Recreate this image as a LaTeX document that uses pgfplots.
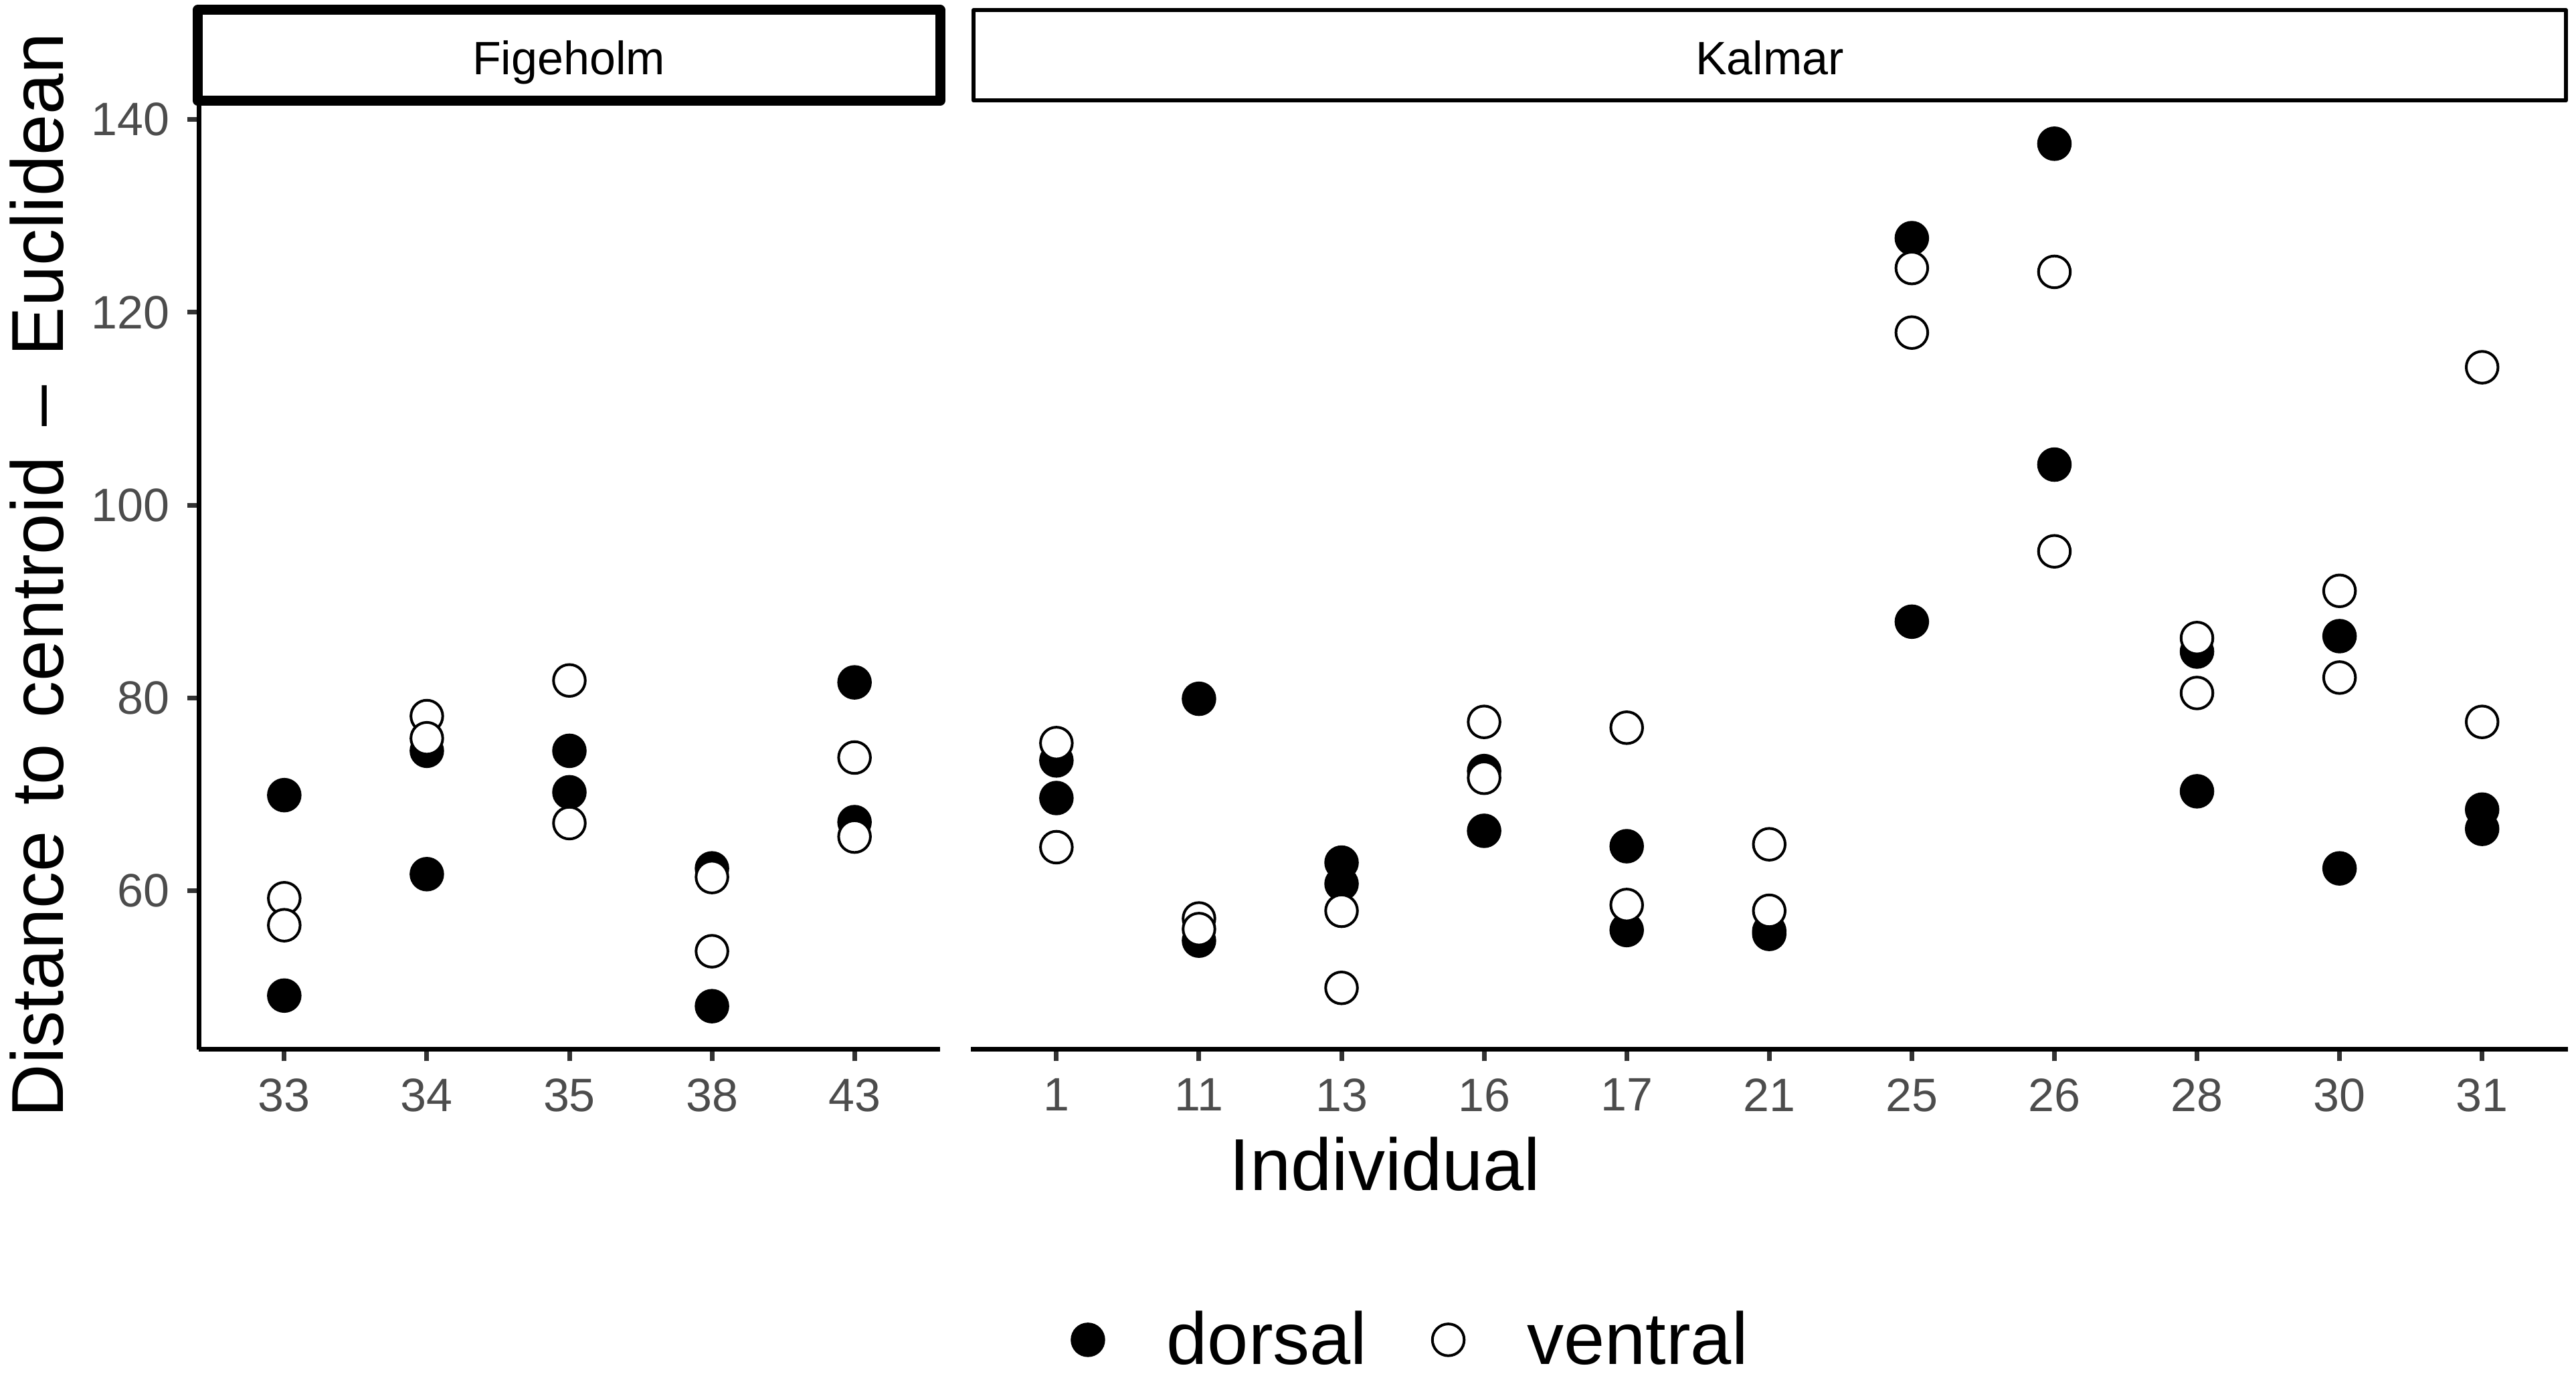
\documentclass[border=0pt]{standalone}
\usepackage{fontspec}
\setmainfont{Liberation Sans}
\usepackage{pgfplots}
\pgfplotsset{compat=1.18}

\pgfplotsset{
  panel/.style={
    scale only axis, anchor=south west, height=283.8pt,
    ymin=43.5, ymax=142, clip=false,
    axis x line*=bottom,
    axis line style={line width=1.4pt, black, -},
    tick align=outside, major tick length=3.5pt,
    tick style={line width=1.4pt, color=black!80},
    /pgf/number format/assume math mode=true,
    tick label style={font=\fontsize{14}{16}\selectfont, text=black!70},
    xticklabel style={anchor=north, inner sep=0pt, yshift=-5pt},
    yticklabel style={anchor=east, inner sep=0pt, xshift=-5pt},
  },
  dors/.style={only marks, mark=*, mark size=4.75pt,
    mark options={draw=black, fill=black, line width=0.8pt},
    legend image code/.code={\draw[line width=0.8pt, draw=black, fill=black] (0pt,0pt) circle (4.75pt);}},
  vent/.style={only marks, mark=*, mark size=4.75pt,
    mark options={draw=black, fill=white, line width=0.8pt},
    legend image code/.code={\draw[line width=0.8pt, draw=black, fill=white] (0pt,0pt) circle (4.75pt);}},
}

\begin{document}
\begin{tikzpicture}
% ---------------- Figeholm ----------------
\begin{axis}[panel,
  at={(59.4pt,97.6pt)}, width=221.6pt,
  xmin=0.4, xmax=5.6,
  axis y line*=left,
  xtick={1,2,3,4,5}, xticklabels={33,34,35,38,43},
  ytick={60,80,100,120,140},
  ylabel={Distance\hspace{1.6pt} to\hspace{1.6pt} centroid\hspace{2.8pt} --\hspace{2.8pt} Euclidean},
  every axis y label/.style={at={(axis description cs:-0.2184,0.5)}, rotate=90, anchor=center,
    font=\fontsize{22}{26}\selectfont, inner sep=0pt},
]
\addplot[dors] table[x=x, y=y] {
x y
1 69.9
1 49.1
2 74.5
2 61.7
3 74.5
3 70.2
4 62.3
4 48.0
5 81.6
5 67.1
};
\addplot[vent] table[x=x, y=y] {
x y
1 59.2
1 56.4
2 78.1
2 75.8
3 81.8
3 67.0
4 61.4
4 53.7
5 73.8
5 65.6
};
\end{axis}
% ---------------- Kalmar ----------------
\begin{axis}[panel,
  at={(290.2pt,97.6pt)}, width=477.3pt,
  xmin=0.4, xmax=11.6,
  axis y line=none,
  xtick={1,2,3,4,5,6,7,8,9,10,11},
  xticklabels={1,11,13,16,17,21,25,26,28,30,31},
  ytick=\empty,
  xlabel={Individual},
  every axis x label/.style={at={(axis description cs:0.2594,-0.1205)}, anchor=center,
    font=\fontsize{22}{26}\selectfont, inner sep=0pt},
  legend style={at={(0.2746,-0.3058)}, anchor=center, draw=none, fill=none,
    legend columns=-1, font=\fontsize{22}{26}\selectfont,
    nodes={inner sep=0pt},
    /tikz/every odd column/.append style={column sep=18.4pt},
    /tikz/every even column/.append style={column sep=19.1pt}},
]
\addplot[dors] table[x=x, y=y] {
x y
1 73.5
1 69.6
2 79.9
2 54.8
3 62.9
3 60.7
4 72.4
4 66.2
5 64.6
5 55.9
6 55.8
6 55.5
7 127.7
7 87.9
8 137.5
8 104.2
9 84.8
9 70.3
10 86.4
10 62.3
11 68.4
11 66.4
};
\addlegendentry{dorsal}
\addplot[vent] table[x=x, y=y] {
x y
1 75.3
1 64.5
2 57.1
2 56.0
3 57.9
3 49.9
4 77.5
4 71.7
5 76.9
5 58.5
6 64.8
6 57.9
7 124.6
7 117.9
8 124.2
8 95.2
9 86.2
9 80.5
10 91.1
10 82.1
11 114.3
11 77.5
};
\addlegendentry{ventral}
\end{axis}
% ---------------- strips ----------------
\draw[line width=3pt, line join=round, fill=white] (59.1pt,381.3pt) rectangle (281pt,408.4pt);
\draw[line width=1.2pt, line join=round, fill=white] (291pt,381.3pt) rectangle (767pt,408.4pt);
\node[anchor=base, font=\fontsize{14}{16}\selectfont, inner sep=0pt] at (170pt,389pt) {Figeholm};
\node[anchor=base, font=\fontsize{14}{16}\selectfont, inner sep=0pt] at (529pt,389pt) {Kalmar};
\pgfresetboundingbox
\useasboundingbox (0pt,0pt) rectangle (770pt,411.4pt);
\end{tikzpicture}
\end{document}
